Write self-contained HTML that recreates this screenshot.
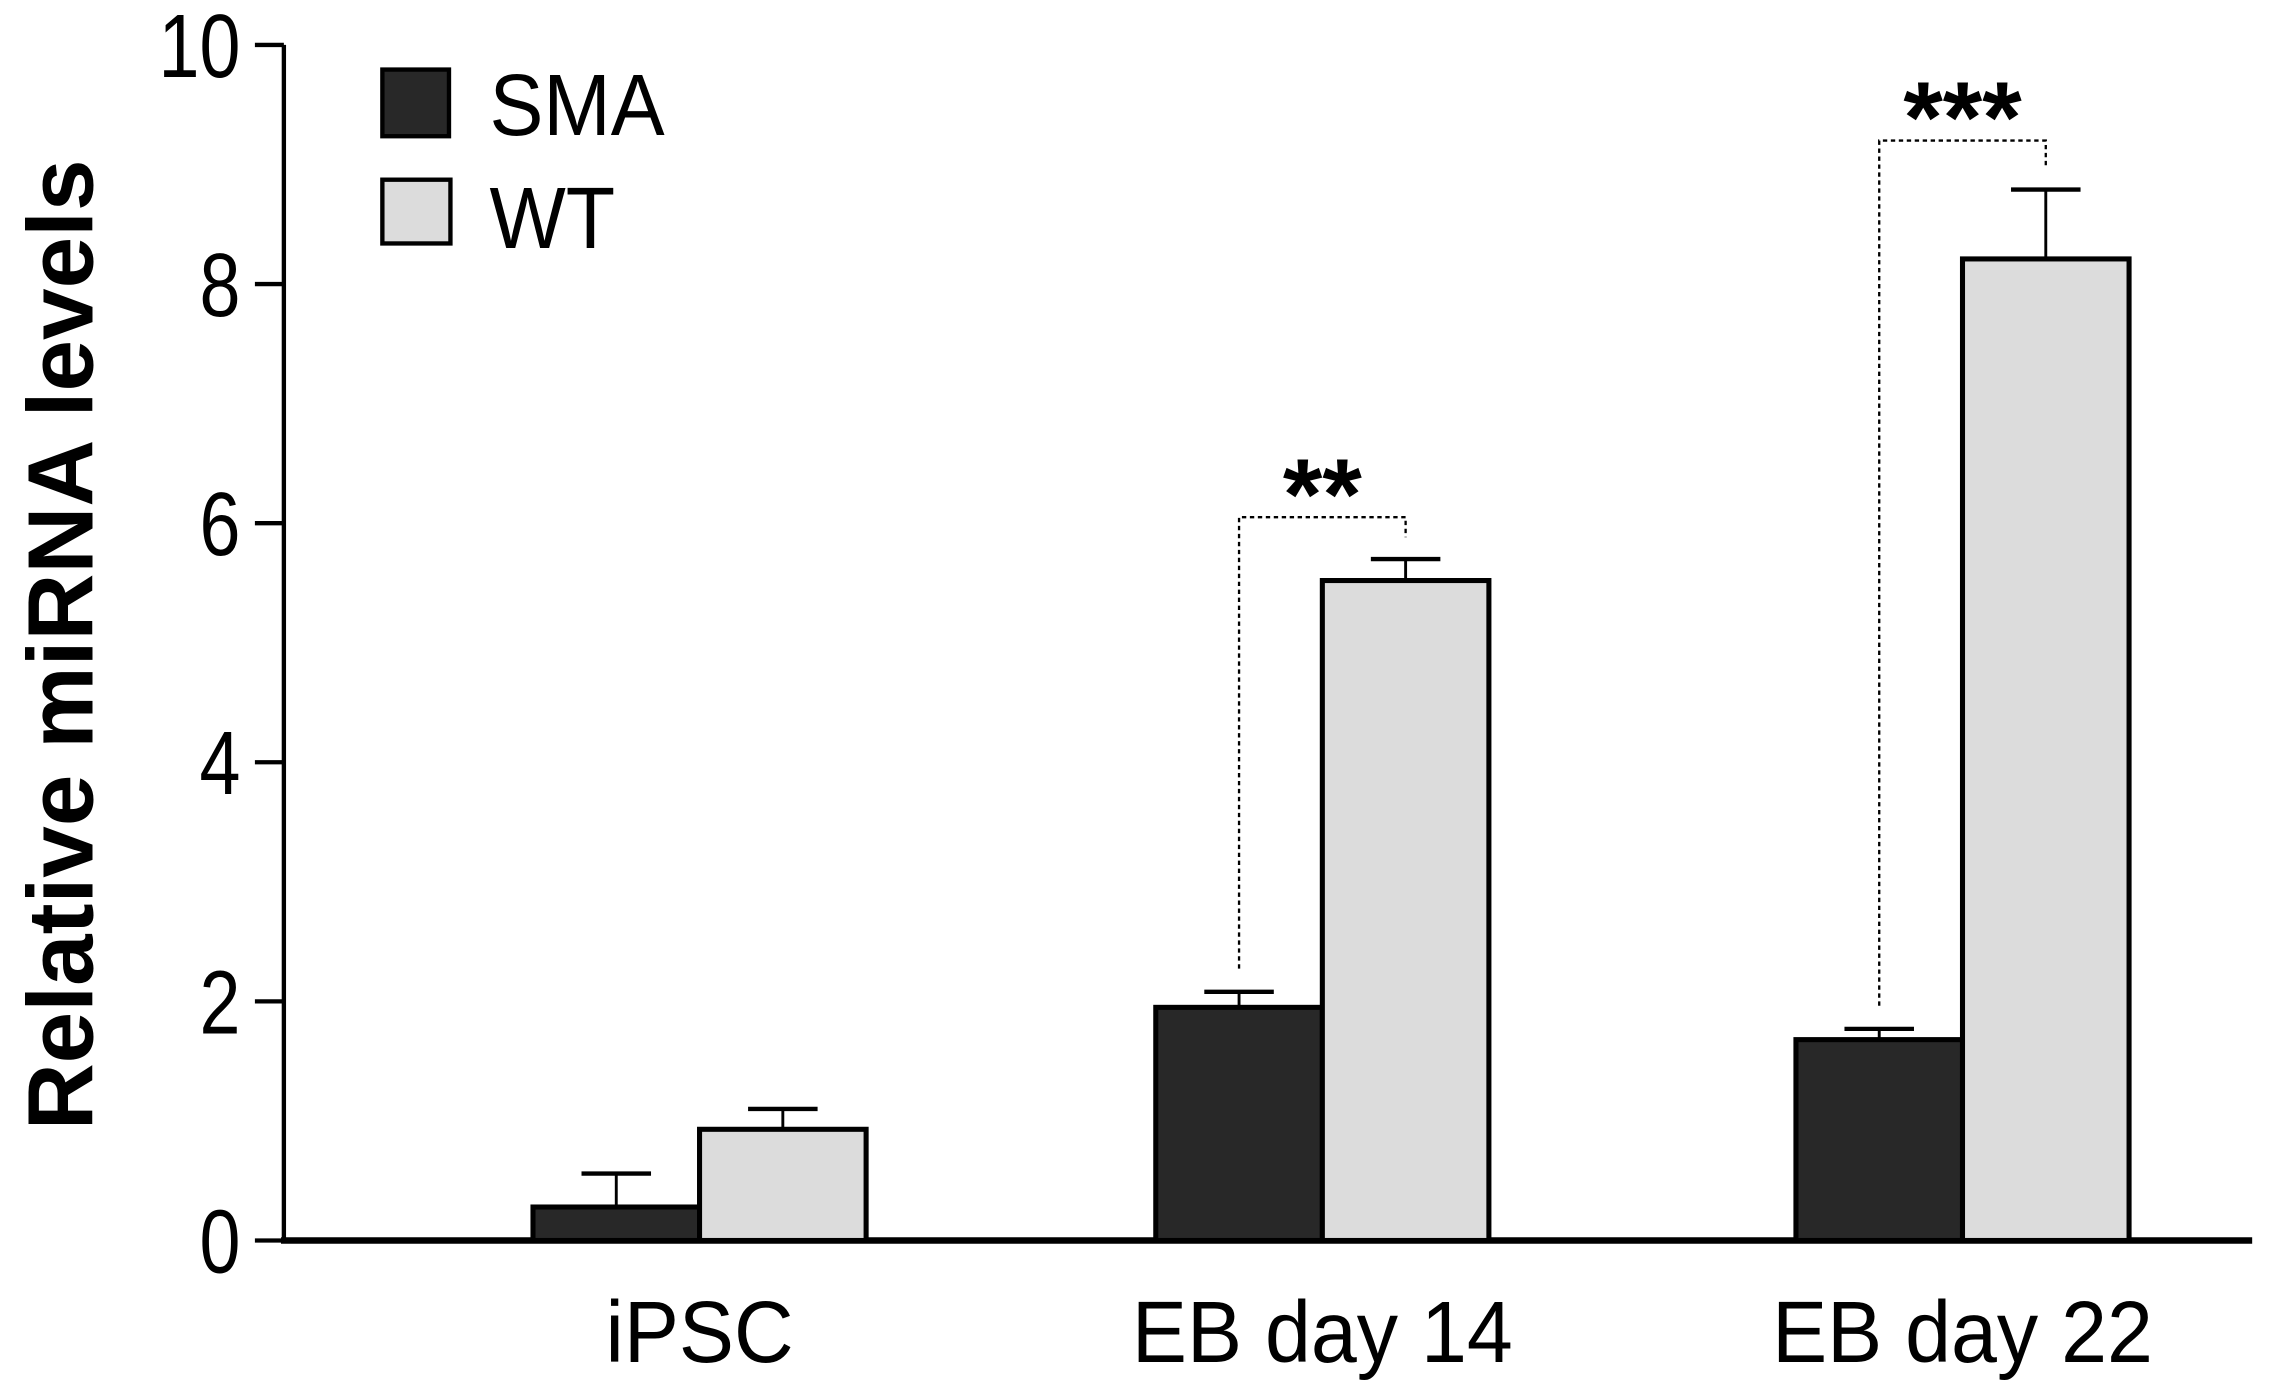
<!DOCTYPE html>
<html><head><meta charset="utf-8"><style>
html,body{margin:0;padding:0;background:#fff;}
svg{display:block;font-family:"Liberation Sans",Arial,sans-serif;}
</style></head><body>
<svg id="chart" width="2271" height="1397" viewBox="0 0 1568 964" preserveAspectRatio="none" xmlns="http://www.w3.org/2000/svg">
<g id="axes"></g><g id="bars"></g><g id="annot"></g>
</svg>
<script>
const categories = ["iPSC", "EB day 14", "EB day 22"];
const smaValues = [0.28, 1.95, 1.68];
const smaErrors = [0.28, 0.13, 0.09];
const wtValues = [0.93, 5.52, 8.21];
const wtErrors = [0.17, 0.18, 0.58];
const yTicks = [0, 2, 4, 6, 8, 10];
const sigLabels = ["", "**", "***"];
const sigHeights = [0, 6.05, 9.2];

const NS = "http://www.w3.org/2000/svg";
const X0 = 196, Y0 = 856, PXU = 82.5;
const centers = [483, 913, 1355];
const BW = 115;
function y(v){ return Y0 - v * PXU; }
function xc(i){ return centers[i]; }
function mk(tag, attrs, parent, text){
  const e = document.createElementNS(NS, tag);
  for (const k in attrs) e.setAttribute(k, attrs[k]);
  if (text !== undefined) e.textContent = text;
  parent.appendChild(e); return e;
}
const axes = document.getElementById('axes');
const bars = document.getElementById('bars');
const annot = document.getElementById('annot');

let yl = mk('line', {x1:X0, y1:y(10), x2:X0, y2:Y0+2, stroke:'#000','stroke-width':3}, axes);


let xl = mk('line', {x1:X0-2, y1:Y0, x2:1555, y2:Y0, stroke:'#000','stroke-width':4.5}, axes);


yTicks.forEach(t => {
  let tk = mk('line', {x1:X0-20, y1:y(t), x2:X0, y2:y(t), stroke:'#000','stroke-width':3}, axes);
  
  
  let lb = mk('text', {x:0, y:0, transform:`translate(166,${y(t)+22}) scale(0.82,1)`, 'text-anchor':'end', 'font-size':62}, axes, String(t));
  
  
});
let yt = mk('text', {x:0, y:0, transform:'translate(64,445) rotate(-90)', 'text-anchor':'middle', 'font-size':64, 'font-weight':'bold'}, axes, 'Relative miRNA levels');



categories.forEach((c, i) => {
  let lb = mk('text', {x:0, y:0, transform:`translate(${xc(i)},940) scale(0.95,1)`, 'text-anchor':'middle', 'font-size':60}, axes, c);
  
  
  [[smaValues[i], smaErrors[i], xc(i)-BW/2],[wtValues[i], wtErrors[i], xc(i)+BW/2]].forEach(([v,e,cx]) => {
    let el = mk('line', {x1:cx, y1:y(v), x2:cx, y2:y(v+e), stroke:'#000','stroke-width':2}, bars);
    
    
    let cap = mk('line', {x1:cx-24, y1:y(v+e), x2:cx+24, y2:y(v+e), stroke:'#000','stroke-width':3}, bars);
    
    
  });
  let b1 = mk('rect', {x:xc(i)-BW, y:y(smaValues[i]), width:BW, height:Y0-y(smaValues[i]), fill:'#282828', stroke:'#000','stroke-width':3.5}, bars);
  
  
  let b2 = mk('rect', {x:xc(i), y:y(wtValues[i]), width:BW, height:Y0-y(wtValues[i]), fill:'#dcdcdc', stroke:'#000','stroke-width':3.5}, bars);
  
  
  if (sigLabels[i]) {
    const xa = xc(i)-BW/2, xb = xc(i)+BW/2;
    const ya = y(smaValues[i]+smaErrors[i]) - 16, yb = y(wtValues[i]+wtErrors[i]) - 15, yh = y(sigHeights[i]);
    let br = mk('path', {d:`M${xa},${ya} V${yh} H${xb} V${yb}`, fill:'none', stroke:'#000','stroke-width':1.6,'stroke-dasharray':'3,2.5'}, annot);
    
    
    let st = mk('text', {x:(xa+xb)/2, y:yh+8, 'text-anchor':'middle', 'font-size':70, 'font-weight':'bold'}, annot, sigLabels[i]);
    
    
  }
});

const lg = mk('g', {}, annot);


let s1 = mk('rect', {x:264, y:48, width:46, height:46, fill:'#282828', stroke:'#000','stroke-width':3}, lg);


let t1 = mk('text', {x:0, y:0, transform:'translate(338,93) scale(0.93,1)', 'font-size':60}, lg, 'SMA');


let s2 = mk('rect', {x:264, y:124, width:47, height:44, fill:'#dcdcdc', stroke:'#000','stroke-width':3}, lg);


let t2 = mk('text', {x:0, y:0, transform:'translate(338,171) scale(0.93,1)', 'font-size':60}, lg, 'WT');


</script>
</body></html>
